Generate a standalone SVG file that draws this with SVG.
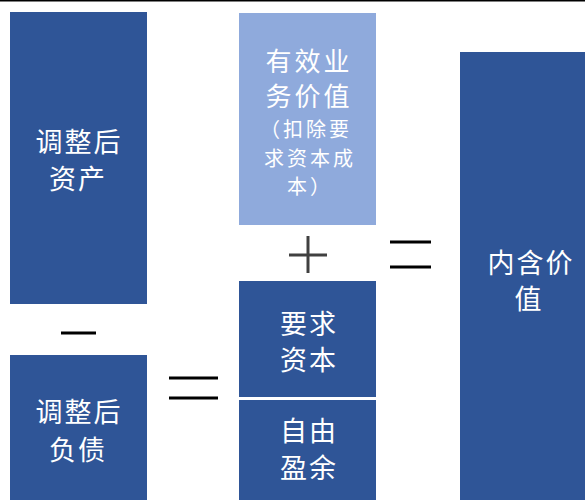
<svg xmlns="http://www.w3.org/2000/svg" width="585" height="500" viewBox="0 0 585 500">
<style>
.dark{fill:#2F5597}
.light{fill:#8FAADC}
.t{fill:#FFFFFF;font-family:"Noto Sans CJK SC","Noto Sans CJK JP",sans-serif;font-size:27px;text-anchor:middle;letter-spacing:2px}
.m{font-size:26px;letter-spacing:3px}
.s{font-size:20px;letter-spacing:3px}
.op{stroke:#000000;stroke-width:3;fill:none}
</style>
<rect x="0" y="0" width="585" height="500" fill="#FFFFFF"/>
<line x1="0" y1="0.8" x2="585" y2="0.8" stroke="#000000" stroke-width="1.6"/>
<g id="adj-assets">
<rect class="dark" x="10" y="12" width="137" height="292"/>
<text class="t" x="79" y="152">调整后</text>
<text class="t" x="78" y="189">资产</text>
</g>
<g id="adj-liabilities">
<rect class="dark" x="10" y="355" width="137" height="145"/>
<text class="t" x="79" y="422">调整后</text>
<text class="t" x="78" y="460">负债</text>
</g>
<g id="business-value">
<rect class="light" x="239" y="13" width="137" height="212"/>
<text class="t m" x="309" y="71">有效业</text>
<text class="t m" x="309" y="106">务价值</text>
<text class="t s" x="306" y="137">（扣除要</text>
<text class="t s" x="310" y="166">求资本成</text>
<text class="t s" x="310" y="194">本）</text>
</g>
<g id="required-capital">
<rect class="dark" x="239" y="281" width="137" height="116"/>
<text class="t" x="309" y="334">要求</text>
<text class="t" x="309" y="370">资本</text>
</g>
<g id="free-surplus">
<rect class="dark" x="239" y="400" width="137" height="100"/>
<text class="t" x="309" y="441">自由</text>
<text class="t" x="309" y="478">盈余</text>
</g>
<g id="embedded-value">
<rect class="dark" x="460" y="52" width="125" height="448"/>
<text class="t" x="531" y="273">内含价</text>
<text class="t" x="529" y="309">值</text>
</g>
<g id="connectors">
<line class="op" x1="61" y1="333" x2="96" y2="333"/>
<line class="op" x1="169" y1="378" x2="218" y2="378"/>
<line class="op" x1="169" y1="398" x2="218" y2="398"/>
<line x1="289" y1="255" x2="327" y2="255" stroke="#404040" stroke-width="3"/>
<line x1="308" y1="236" x2="308" y2="273" stroke="#404040" stroke-width="3"/>
<line class="op" x1="390" y1="242" x2="431" y2="242"/>
<line class="op" x1="390" y1="267" x2="431" y2="267"/>
</g>
</svg>
